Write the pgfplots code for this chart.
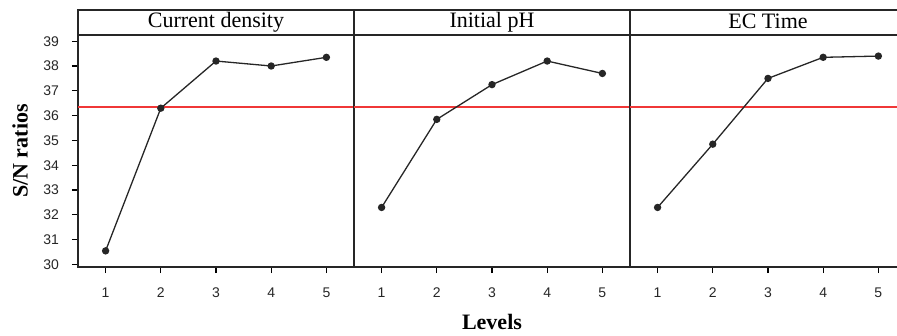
\documentclass[border=0pt]{standalone}
\usepackage{pgfplots}
\pgfplotsset{compat=1.18}
\usepgfplotslibrary{groupplots}
\usepackage{fontspec}
\setmainfont{Liberation Serif}
\newfontfamily\ticksf{Liberation Sans}
\definecolor{refline}{RGB}{240,55,55}
\begin{document}
\begin{tikzpicture}
\begin{groupplot}[
  group style={group size=3 by 1, horizontal sep=0pt},
  width=138pt, height=116pt, scale only axis,
  xmin=0.5, xmax=5.5, ymin=29.9, ymax=39.25,
  xtick={1,2,3,4,5},
  tick align=outside, xtick pos=bottom, ytick pos=left,
  major tick length=3pt,
  axis line style={line width=0.75pt, black!85},
  every tick/.style={black, line width=0.6pt},
  ticklabel style={font=\ticksf\fontsize{7}{8}\selectfont, black!85},
  xticklabel style={yshift=-4pt},
  yticklabel style={xshift=-3pt},
  /pgf/number format/assume math mode=true,
  clip=false,
  every axis y label/.style={at={(rel axis cs:0,0.5)}, anchor=center, rotate=90, yshift=29pt},
  every axis x label/.style={at={(rel axis cs:0.5,0)}, anchor=center, yshift=-27.5pt},
  label style={font=\bfseries\fontsize{11}{12}\selectfont},
]
\nextgroupplot[ytick={30,31,32,33,34,35,36,37,38,39}, ylabel={S/N ratios}]
\coordinate (bl) at (rel axis cs:0,0);
\draw[line width=0.75pt, black!85] (rel axis cs:0,1) rectangle ([yshift=12.5pt]rel axis cs:1,1);
\node[font=\fontsize{11}{12}\selectfont] at ([yshift=6.6pt]rel axis cs:0.5,1) {Current density};
\addplot[refline, line width=1pt, forget plot] coordinates {(0.5,36.34) (5.5,36.34)};
\addplot[black!85, line width=0.65pt, mark=*, mark size=1.5pt] coordinates {(1,30.55) (2,36.3) (3,38.2) (4,38.0) (5,38.35)};
\nextgroupplot[ytick=\empty, xlabel={Levels}]
\draw[line width=0.75pt, black!85] (rel axis cs:0,1) rectangle ([yshift=12.5pt]rel axis cs:1,1);
\node[font=\fontsize{11}{12}\selectfont] at ([yshift=6.6pt]rel axis cs:0.5,1) {Initial pH};
\addplot[refline, line width=1pt, forget plot] coordinates {(0.5,36.34) (5.5,36.34)};
\addplot[black!85, line width=0.65pt, mark=*, mark size=1.5pt] coordinates {(1,32.3) (2,35.85) (3,37.25) (4,38.2) (5,37.7)};
\nextgroupplot[ytick=\empty]
\draw[line width=0.75pt, black!85] (rel axis cs:0,1) rectangle ([yshift=12.5pt]rel axis cs:1,1);
\node[font=\fontsize{11}{12}\selectfont] at ([yshift=6.6pt]rel axis cs:0.5,1) {EC Time};
\addplot[refline, line width=1pt, forget plot] coordinates {(0.5,36.34) (5.5,36.34)};
\addplot[black!85, line width=0.65pt, mark=*, mark size=1.5pt] coordinates {(1,32.3) (2,34.85) (3,37.5) (4,38.35) (5,38.4)};
\end{groupplot}
\pgfresetboundingbox
\path[use as bounding box] ([shift={(-39pt,-34.5pt)}]bl) rectangle ([shift={(409.5pt,133.5pt)}]bl);
\end{tikzpicture}
\end{document}
